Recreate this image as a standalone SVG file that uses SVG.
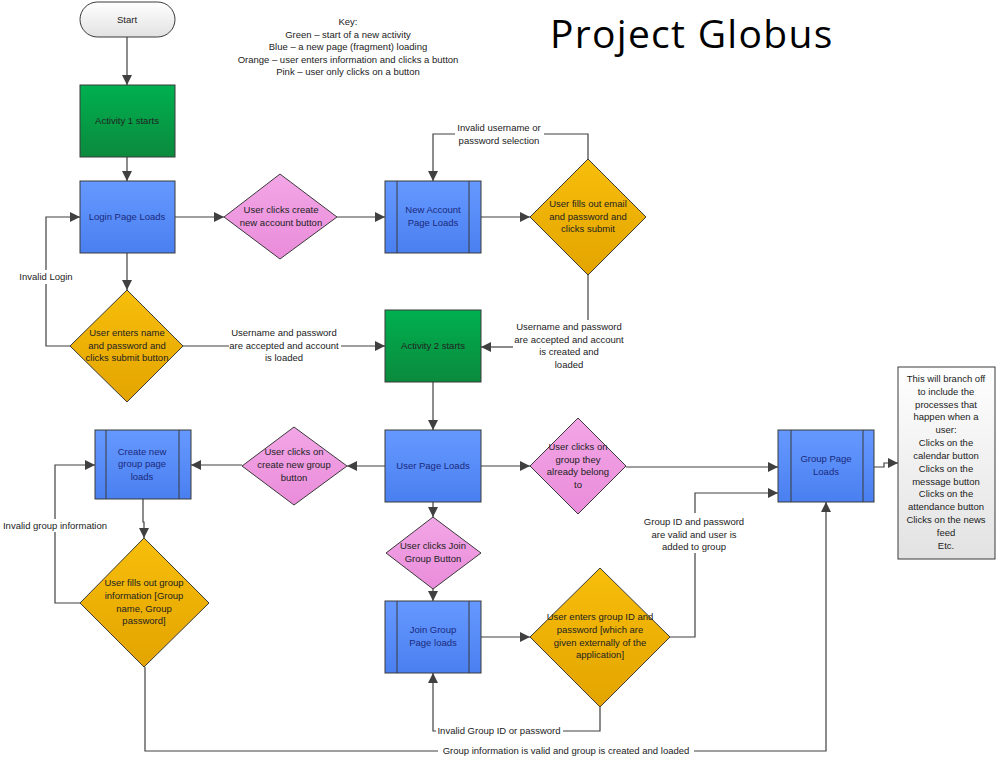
<svg xmlns="http://www.w3.org/2000/svg" width="997" height="758" viewBox="0 0 997 758">
<defs>
<linearGradient id="gGreen" x1="0" y1="0" x2="0" y2="1"><stop offset="0" stop-color="#00B050"/><stop offset="1" stop-color="#0B8A3D"/></linearGradient>
<linearGradient id="gBlue" x1="0" y1="0" x2="0" y2="1"><stop offset="0" stop-color="#6699FF"/><stop offset="1" stop-color="#4A7FF0"/></linearGradient>
<linearGradient id="gPink" x1="0" y1="0" x2="0" y2="1"><stop offset="0" stop-color="#F2A6E6"/><stop offset="1" stop-color="#EA8CDA"/></linearGradient>
<linearGradient id="gOrange" x1="0" y1="0" x2="0" y2="1"><stop offset="0" stop-color="#F7BE0A"/><stop offset="1" stop-color="#E3A400"/></linearGradient>
<linearGradient id="gGrey" x1="0" y1="0" x2="0" y2="1"><stop offset="0" stop-color="#FFFFFF"/><stop offset="1" stop-color="#E2E2E2"/></linearGradient>
<marker id="arr" viewBox="0 0 10 10" refX="10" refY="5" markerWidth="11" markerHeight="10" markerUnits="userSpaceOnUse" orient="auto"><path d="M0,0 L10,5 L0,10 Z" fill="#404040"/></marker>
</defs>
<style>
text{font-family:"Liberation Sans",Arial,sans-serif;font-size:9.5px;fill:#222;text-anchor:middle}
.nb{fill:#1A2A7C}
.shape{stroke:#3A3A3A;stroke-width:1}
.c{fill:none;stroke:#404040;stroke-width:1.2}
.title{font-family:"Open Sans","Liberation Sans",sans-serif;font-size:39px;letter-spacing:1.3px;fill:#000;text-anchor:start}
</style>
<rect width="997" height="758" fill="#fff"/>

<text class="title" x="550" y="48">Project Globus</text>
<g id="key">
<text x="348" y="25">Key:</text>
<text x="348" y="38">Green – start of a new activity</text>
<text x="348" y="50">Blue – a new page (fragment) loading</text>
<text x="348" y="63">Orange – user enters information and clicks a button</text>
<text x="348" y="75">Pink – user only clicks on a button</text>
</g>

<g id="connectors">
<path class="c" d="M127,37 V85" marker-end="url(#arr)"/>
<path class="c" d="M127,157 V181" marker-end="url(#arr)"/>
<path class="c" d="M175,217 H224" marker-end="url(#arr)"/>
<path class="c" d="M337,217 H385" marker-end="url(#arr)"/>
<path class="c" d="M481,217 H530" marker-end="url(#arr)"/>
<path class="c" d="M588,159 V134 H544"/>
<path class="c" d="M455,134 H433 V181" marker-end="url(#arr)"/>
<path class="c" d="M588,275 V320"/>
<path class="c" d="M513,347 H481" marker-end="url(#arr)"/>
<path class="c" d="M127,253 V290" marker-end="url(#arr)"/>
<path class="c" d="M70,346 H46 V284"/>
<path class="c" d="M46,270 V217 H80" marker-end="url(#arr)"/>
<path class="c" d="M183,346 H229"/>
<path class="c" d="M341,346 H385" marker-end="url(#arr)"/>
<path class="c" d="M433,382 V430" marker-end="url(#arr)"/>
<path class="c" d="M385,466 H347" marker-end="url(#arr)"/>
<path class="c" d="M242,465 H191" marker-end="url(#arr)"/>
<path class="c" d="M143,499 V522 H144 V538" marker-end="url(#arr)"/>
<path class="c" d="M80,603 H55 V532"/>
<path class="c" d="M55,519 V465 H95" marker-end="url(#arr)"/>
<path class="c" d="M145,667 V751 H438"/>
<path class="c" d="M694,751 H826 V502" marker-end="url(#arr)"/>
<path class="c" d="M481,466 H530" marker-end="url(#arr)"/>
<path class="c" d="M626,467 H778" marker-end="url(#arr)"/>
<path class="c" d="M433,502 V517" marker-end="url(#arr)"/>
<path class="c" d="M433,589 V601" marker-end="url(#arr)"/>
<path class="c" d="M481,637 H530" marker-end="url(#arr)"/>
<path class="c" d="M670,637 H695 V553"/>
<path class="c" d="M695,513 V493 H778" marker-end="url(#arr)"/>
<path class="c" d="M600,707 V731 H563"/>
<path class="c" d="M436,731 H433 V673" marker-end="url(#arr)"/>
<path class="c" d="M874,467 H884 V463 H898" marker-end="url(#arr)"/>
<text x="499" y="131">Invalid username or</text>
<text x="499" y="144">password selection</text>
<text x="569" y="330">Username and password</text>
<text x="569" y="343">are accepted and account</text>
<text x="569" y="355">is created and</text>
<text x="569" y="368">loaded</text>
<text x="46" y="280">Invalid Login</text>
<text x="284" y="336">Username and password</text>
<text x="284" y="349">are accepted and account</text>
<text x="284" y="361">is loaded</text>
<text x="55" y="529">Invalid group information</text>
<text x="566" y="754">Group information is valid and group is created and loaded</text>
<text x="694" y="525">Group ID and password</text>
<text x="694" y="538">are valid and user is</text>
<text x="694" y="550">added to group</text>
<text x="499" y="734">Invalid Group ID or password</text>
</g>

<g id="start">
<rect class="shape" x="80" y="2" width="95" height="35" rx="17.5" fill="url(#gGrey)"/>
<text x="127" y="23">Start</text>
</g>
<g id="activity1">
<rect class="shape" x="80" y="85" width="95" height="72" fill="url(#gGreen)"/>
<text x="127" y="124">Activity 1 starts</text>
</g>
<g id="login">
<rect class="shape" x="80" y="181" width="95" height="72" fill="url(#gBlue)"/>
<text class="nb" x="127" y="220">Login Page Loads</text>
</g>
<g id="createAccountBtn">
<polygon class="shape" points="280,174 337,217 280,259 224,217" fill="url(#gPink)"/>
<text x="281" y="213">User clicks create</text>
<text x="281" y="226">new account button</text>
</g>
<g id="newAccount">
<rect class="shape" x="385" y="181" width="96" height="72" fill="url(#gBlue)"/>
<path class="shape" d="M397,181 V253 M469,181 V253" fill="none"/>
<text class="nb" x="433" y="213">New Account</text>
<text class="nb" x="433" y="226">Page Loads</text>
</g>
<g id="fillEmail">
<polygon class="shape" points="588,159 646,217 588,275 530,217" fill="url(#gOrange)"/>
<text x="588" y="207">User fills out email</text>
<text x="588" y="220">and password and</text>
<text x="588" y="232">clicks submit</text>
</g>
<g id="enterName">
<polygon class="shape" points="127,290 183,346 127,402 70,346" fill="url(#gOrange)"/>
<text x="127" y="336">User enters name</text>
<text x="127" y="349">and password and</text>
<text x="127" y="361">clicks submit button</text>
</g>
<g id="activity2">
<rect class="shape" x="385" y="310" width="96" height="72" fill="url(#gGreen)"/>
<text x="433" y="349">Activity 2 starts</text>
</g>
<g id="userPage">
<rect class="shape" x="385" y="430" width="96" height="72" fill="url(#gBlue)"/>
<text class="nb" x="433" y="469">User Page Loads</text>
</g>
<g id="createGroupBtn">
<polygon class="shape" points="294,427 347,466 294,505 242,466" fill="url(#gPink)"/>
<text x="294" y="455">User clicks on</text>
<text x="294" y="468">create new group</text>
<text x="294" y="481">button</text>
</g>
<g id="createGroupPage">
<rect class="shape" x="95" y="430" width="96" height="69" fill="url(#gBlue)"/>
<path class="shape" d="M106,430 V499 M179,430 V499" fill="none"/>
<text class="nb" x="142" y="455">Create new</text>
<text class="nb" x="142" y="467">group page</text>
<text class="nb" x="142" y="480">loads</text>
</g>
<g id="fillGroup">
<polygon class="shape" points="144,538 209,603 144,667 80,603" fill="url(#gOrange)"/>
<text x="144" y="586">User fills out group</text>
<text x="144" y="599">information [Group</text>
<text x="144" y="612">name, Group</text>
<text x="144" y="624">password]</text>
</g>
<g id="belongBtn">
<polygon class="shape" points="578,418 626,466 578,514 530,466" fill="url(#gPink)"/>
<text x="578" y="450">User clicks on</text>
<text x="578" y="463">group they</text>
<text x="578" y="475">already belong</text>
<text x="578" y="488">to</text>
</g>
<g id="groupPage">
<rect class="shape" x="778" y="430" width="96" height="72" fill="url(#gBlue)"/>
<path class="shape" d="M791,430 V502 M863,430 V502" fill="none"/>
<text class="nb" x="826" y="462">Group Page</text>
<text class="nb" x="826" y="475">Loads</text>
</g>
<g id="note">
<rect class="shape" x="898" y="367" width="97" height="192" fill="url(#gGrey)"/>
<text x="946" y="382">This will branch off</text>
<text x="946" y="395">to include the</text>
<text x="946" y="408">processes that</text>
<text x="946" y="420">happen when a</text>
<text x="946" y="433">user:</text>
<text x="946" y="446">Clicks on the</text>
<text x="946" y="459">calendar button</text>
<text x="946" y="472">Clicks on the</text>
<text x="946" y="485">message button</text>
<text x="946" y="497">Clicks on the</text>
<text x="946" y="510">attendance button</text>
<text x="946" y="523">Clicks on the news</text>
<text x="946" y="536">feed</text>
<text x="946" y="549">Etc.</text>
</g>
<g id="joinBtn">
<polygon class="shape" points="433,517 481,553 433,589 386,553" fill="url(#gPink)"/>
<text x="433" y="549">User clicks Join</text>
<text x="433" y="562">Group Button</text>
</g>
<g id="joinPage">
<rect class="shape" x="385" y="601" width="96" height="72" fill="url(#gBlue)"/>
<path class="shape" d="M397,601 V673 M469,601 V673" fill="none"/>
<text class="nb" x="433" y="633">Join Group</text>
<text class="nb" x="433" y="646">Page loads</text>
</g>
<g id="enterGroupId">
<polygon class="shape" points="600,568 670,637 600,707 530,637" fill="url(#gOrange)"/>
<text x="600" y="620">User enters group ID and</text>
<text x="600" y="633">password [which are</text>
<text x="600" y="646">given externally of the</text>
<text x="600" y="658">application]</text>
</g>
</svg>
